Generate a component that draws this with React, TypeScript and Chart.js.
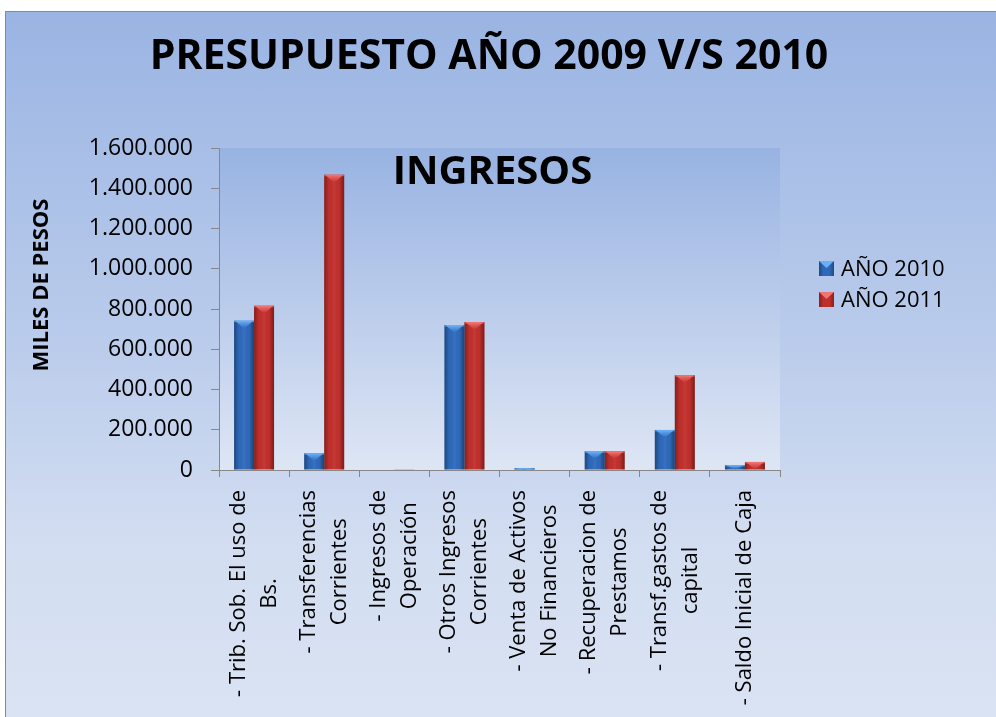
import React, { useEffect, useRef } from "react";
import { Chart, registerables } from "chart.js";

Chart.register(...registerables);

const TITLE = "PRESUPUESTO AÑO 2009 V/S 2010";
const SUBTITLE = "INGRESOS";
const Y_TITLE = "MILES DE PESOS";

const categories: string[][] = [
  ["- Trib. Sob. El uso de", "Bs."],
  ["- Transferencias", "Corrientes"],
  ["- Ingresos de", "Operación"],
  ["- Otros Ingresos", "Corrientes"],
  ["- Venta de Activos", "No Financieros"],
  ["- Recuperacion de", "Prestamos"],
  ["- Transf.gastos de", "capital"],
  ["- Saldo Inicial de Caja"],
];

const seriesNames = ["AÑO 2010", "AÑO 2011"];
const values2010 = [742000, 83000, 0, 720000, 10000, 93000, 199000, 25000];
const values2011 = [816000, 1467000, 1500, 735000, 0, 93000, 471000, 40000];

const yMin = 0;
const yMax = 1600000;
const yStep = 200000;

const FONT = "'Open Sans', sans-serif";
const BASE = ["#2D69BA", "#C02F2B"];
const HIGHLIGHT = ["#6AB0F7", "#F27472"];

const fmt = (v: number) => String(v).replace(/\B(?=(\d{3})+(?!\d))/g, ".");

const decorPlugin = {
  id: "decor",
  beforeDraw(chart: any) {
    const { ctx, chartArea: a } = chart;
    ctx.save();
    const g = ctx.createLinearGradient(0, a.top, 0, a.bottom);
    g.addColorStop(0, "#98B3E2");
    g.addColorStop(1, "#DEE6F4");
    ctx.fillStyle = g;
    ctx.fillRect(a.left, a.top, a.right - a.left, a.bottom - a.top);
    ctx.restore();
  },
  afterDatasetsDraw(chart: any) {
    const { ctx } = chart;
    chart.data.datasets.forEach((ds: any, di: number) => {
      const meta = chart.getDatasetMeta(di);
      meta.data.forEach((el: any) => {
        const w = el.width;
        const left = el.x - w / 2;
        const right = el.x + w / 2;
        const top = Math.min(el.y, el.base);
        const h = Math.abs(el.base - el.y);
        if (h <= 0.2) return;
        ctx.save();
        const g = ctx.createLinearGradient(left, 0, right, 0);
        g.addColorStop(0, "rgba(0,0,0,0.32)");
        g.addColorStop(0.25, "rgba(0,0,0,0.0)");
        g.addColorStop(0.5, "rgba(255,255,255,0.06)");
        g.addColorStop(0.75, "rgba(0,0,0,0.0)");
        g.addColorStop(1, "rgba(0,0,0,0.38)");
        ctx.fillStyle = g;
        ctx.fillRect(left, top, w, h);
        const d = Math.min(w * 0.4, h);
        ctx.beginPath();
        ctx.moveTo(left + 1, top);
        ctx.lineTo(right - 1, top);
        ctx.lineTo(el.x, top + d);
        ctx.closePath();
        const tg = ctx.createLinearGradient(0, top, 0, top + d);
        tg.addColorStop(0, HIGHLIGHT[di]);
        tg.addColorStop(1, BASE[di]);
        ctx.fillStyle = tg;
        ctx.fill();
        ctx.fillStyle = HIGHLIGHT[di];
        ctx.globalAlpha = 0.6;
        ctx.fillRect(left, top, w, Math.min(1.5, h));
        ctx.restore();
      });
    });
  },
  afterDraw(chart: any) {
    const { ctx, chartArea: a } = chart;
    const xs = chart.scales.x;
    ctx.save();
    ctx.fillStyle = "#000";
    ctx.font = `bold 41px ${FONT}`;
    ctx.textAlign = "center";
    ctx.textBaseline = "middle";
    ctx.fillText(TITLE, 483, 45);
    ctx.font = `bold 40px ${FONT}`;
    ctx.fillText(SUBTITLE, (a.left + a.right) / 2 - 7, a.top + 25);
    ctx.save();
    ctx.translate(36, 273);
    ctx.rotate(-Math.PI / 2);
    ctx.font = `bold 22px ${FONT}`;
    ctx.fillText(Y_TITLE, 0, 0);
    ctx.restore();
    ctx.font = `22px ${FONT}`;
    const lineGap = 31;
    chart.data.labels.forEach((lab: string[], i: number) => {
      const x = xs.getPixelForValue(i);
      const maxW = Math.max(...lab.map((l) => ctx.measureText(l).width));
      ctx.save();
      ctx.translate(x, a.bottom + 20 + maxW / 2);
      ctx.rotate(-Math.PI / 2);
      lab.forEach((line, j) => {
        ctx.fillText(line, 0, (j - (lab.length - 1) / 2) * lineGap);
      });
      ctx.restore();
    });
    ctx.font = `22px ${FONT}`;
    ctx.textAlign = "left";
    chart.data.datasets.forEach((ds: any, di: number) => {
      const bx = 813;
      const by = 249 + di * 31;
      const s = 15;
      ctx.fillStyle = BASE[di];
      ctx.fillRect(bx, by, s, s);
      const g = ctx.createLinearGradient(bx, 0, bx + s, 0);
      g.addColorStop(0, "rgba(0,0,0,0.3)");
      g.addColorStop(0.3, "rgba(0,0,0,0)");
      g.addColorStop(0.7, "rgba(0,0,0,0)");
      g.addColorStop(1, "rgba(0,0,0,0.3)");
      ctx.fillStyle = g;
      ctx.fillRect(bx, by, s, s);
      ctx.beginPath();
      ctx.moveTo(bx, by);
      ctx.lineTo(bx + s, by);
      ctx.lineTo(bx + s / 2, by + 7);
      ctx.closePath();
      ctx.fillStyle = HIGHLIGHT[di];
      ctx.fill();
      ctx.fillStyle = "#000";
      ctx.fillText(ds.label, 835, by + s / 2 + 1);
    });
    ctx.restore();
  },
};

export default function App() {
  const ref = useRef<HTMLCanvasElement>(null);
  useEffect(() => {
    const chart = new Chart(ref.current!, {
      type: "bar",
      data: {
        labels: categories as any,
        datasets: [
          { label: seriesNames[0], data: values2010, backgroundColor: BASE[0], borderWidth: 0 },
          { label: seriesNames[1], data: values2011, backgroundColor: BASE[1], borderWidth: 0 },
        ],
      },
      plugins: [decorPlugin],
      options: {
        responsive: false,
        animation: false,
        events: [],
        layout: { padding: { top: 136, right: 216, left: 0, bottom: 0 } },
        datasets: { bar: { categoryPercentage: 0.57, barPercentage: 1.0 } },
        plugins: { legend: { display: false }, title: { display: false }, tooltip: { enabled: false } },
        scales: {
          x: {
            afterFit: (s: any) => { s.height = 247; },
            ticks: { display: false },
            grid: { offset: true, drawOnChartArea: false, drawTicks: true, tickLength: 7, color: "#878787" },
            border: { display: true, color: "#878787", width: 1 },
          },
          y: {
            min: yMin,
            max: yMax,
            afterFit: (s: any) => { s.width = 213; },
            ticks: {
              stepSize: yStep,
              padding: 18,
              color: "#000",
              font: { family: FONT, size: 23 },
              callback: (v: any) => fmt(Number(v)),
            },
            grid: { drawOnChartArea: false, drawTicks: true, tickLength: 8, color: "#878787" },
            border: { display: true, color: "#878787", width: 1 },
          },
        },
      },
    });
    return () => chart.destroy();
  }, []);
  return (
    <div
      style={{
        position: "fixed",
        left: 5,
        top: 11,
        width: 991,
        height: 706,
        boxSizing: "border-box",
        borderLeft: "1px solid #8a8a8a",
        borderTop: "1px solid #8a8a8a",
        background: "linear-gradient(180deg, #9AB4E3 0%, #B9CBEB 45%, #D2DDF1 75%, #DAE3F3 100%)",
      }}
    >
      <canvas ref={ref} width={990} height={705} style={{ display: "block" }} />
    </div>
  );
}
